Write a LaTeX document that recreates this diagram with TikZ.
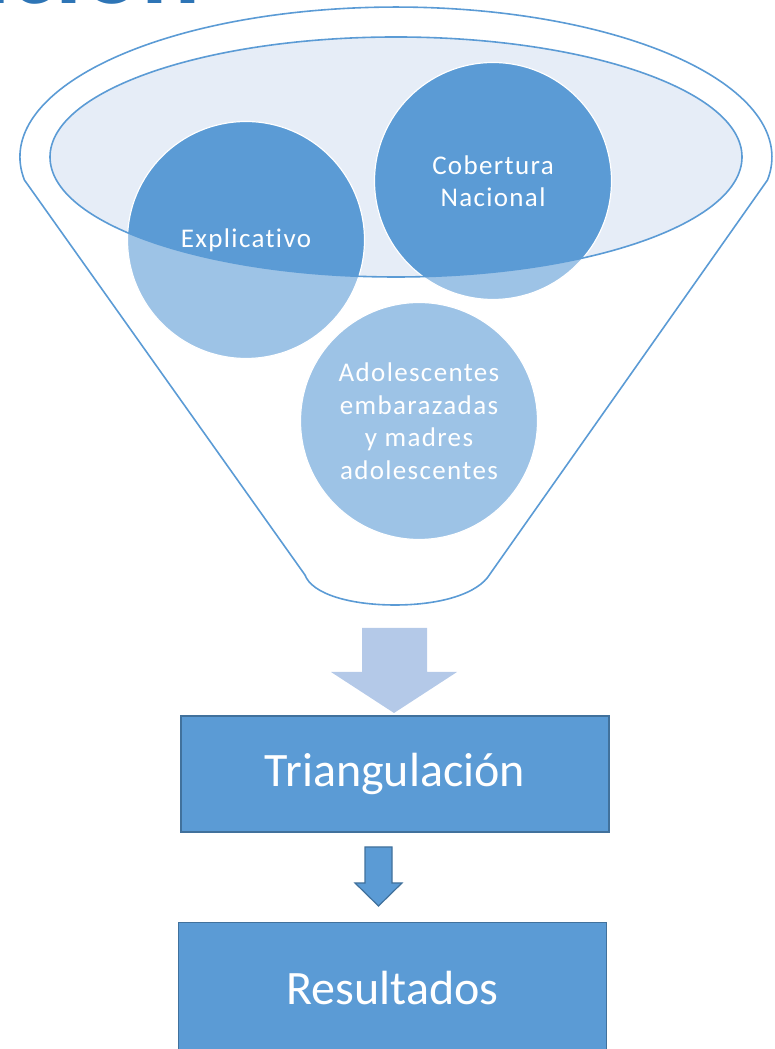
\documentclass[tikz,border=0pt]{standalone}
\usepackage{fontspec}
\setmainfont{Carlito}
\newfontfamily\spacedfont[LetterSpace=5, Ligatures=NoCommon]{Carlito}
\usetikzlibrary{calc,positioning}
\definecolor{darkfill}{HTML}{5B9BD5}
\definecolor{lightfill}{HTML}{9DC3E6}
\definecolor{rimfill}{HTML}{E6EDF7}
\definecolor{boxline}{HTML}{41719C}
\definecolor{bigarrow}{HTML}{B4C9E8}
\definecolor{titleblue}{HTML}{2E75B6}
\tikzset{
  bubble/.style={inner sep=0pt, align=center, text=white, font=\spacedfont\fontsize{27}{32.5}\selectfont},
  stepbox/.style={draw=boxline, line width=1.5pt, fill=darkfill, text=white, minimum width=428pt, minimum height=116pt, inner sep=0pt, font=\fontsize{48}{58}\selectfont},
  rimline/.style={draw=darkfill, line width=1.6pt},
}

\begin{document}
\begin{tikzpicture}[x=1pt, y=1pt]
		%%%%% START %%%%%
		
		\useasboundingbox (0, 0) rectangle (775, 1049);
		\clip (0, 0) rectangle (775, 1049);
		
		% title, cut off by the page
		\node[anchor=base east, inner sep=0pt, text=titleblue, font=\bfseries\fontsize{110}{110}\selectfont] (title) at (201, 1045) {ación};
		
		% funnel
		\draw[rimline] (24.4, 869) arc[start angle=188.8, end angle=-8.8, x radius=376pt, y radius=150pt]
			-- (490, 475) .. controls (478, 455) and (440, 444) .. (395, 444)
			.. controls (350, 444) and (312, 455) .. (305, 474) -- cycle;
		\fill[rimfill] (396, 892) ellipse [x radius=346pt, y radius=120pt];
		
		% bubbles
		\coordinate (c1) at (246, 809);
		\coordinate (c2) at (493, 868);
		\coordinate (c3) at (419, 628);
		\foreach \c in {c1, c2, c3}
			\fill[lightfill] (\c) circle (118.5pt);
		\begin{scope}
			\clip (396, 892) ellipse [x radius=346pt, y radius=120pt];
			\foreach \c in {c1, c2}
				\fill[darkfill] (\c) circle (118.5pt);
		\end{scope}
		\foreach \c in {c1, c2, c3}
			\draw[white, line width=1.2pt] (\c) circle (118.5pt);
		\draw[rimline] (396, 892) ellipse [x radius=346pt, y radius=120pt];
		
		\node[bubble] (expl) at (c1) {Explicativo};
		\node[bubble] (cober) at (c2) {Cobertura\\Nacional};
		\node[bubble] (adol) at (c3) {Adolescentes\\embarazadas\\y madres\\adolescentes};
		
		% steps
		\node[stepbox] (tri) at (395, 275) {Triangulación};
		\node[stepbox, minimum height=150pt, anchor=north] (res) at (392.5, 127) {};
		\node[text=white, font=\fontsize{48}{58}\selectfont] (restext) at (392.5, 61) {Resultados};
		
		% arrows
		\fill[bigarrow] (362, 421) -- (427, 421) -- (427, 377) -- (457, 377) -- (394, 336)
			-- (331, 377) -- (362, 377) -- cycle;
		\draw[boxline, fill=darkfill, line width=1.2pt] (365, 202) -- (392, 202) -- (392, 166) -- (402, 166)
			-- (378.5, 143) -- (355, 166) -- (365, 166) -- cycle;
		
		%%%%% END %%%%%
	\end{tikzpicture}
\end{document}
